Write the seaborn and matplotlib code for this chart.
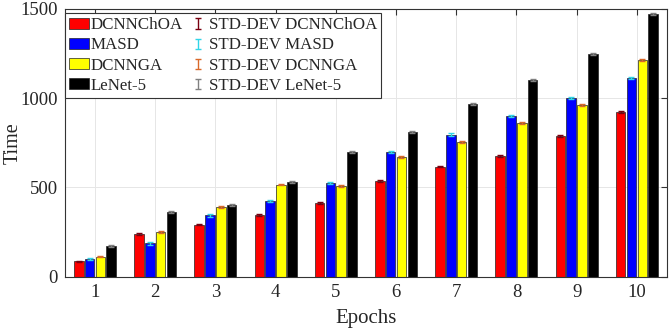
import numpy as np
import pandas as pd
import matplotlib
matplotlib.use("Agg")
import matplotlib.pyplot as plt
from matplotlib.legend_handler import HandlerErrorbar
import seaborn as sns

epochs = [1, 2, 3, 4, 5, 6, 7, 8, 9, 10]
methods = ['DCNNChOA', 'MASD', 'DCNNGA', 'LeNet-5']

# mean run time per epoch
dcnnchoa = [86, 238, 292, 344, 412, 537, 617, 676, 789, 922]
masd = [100, 188, 344, 426, 525, 700, 796, 902, 1000, 1111]
dcnnga = [113, 252, 392, 516, 510, 672, 754, 863, 962, 1212]
lenet5 = [171, 364, 400, 532, 700, 811, 968, 1104, 1247, 1472]

# standard deviation of the run time
std_dcnnchoa = [4, 5, 4, 5, 5, 4, 5, 5, 5, 6]
std_masd = [6, 8, 7, 6, 7, 6, 7, 6, 7, 6]
std_dcnnga = [5, 5, 6, 5, 6, 6, 7, 6, 6, 6]
std_lenet5 = [5, 6, 5, 5, 6, 6, 7, 6, 6, 6]

bar_colors = ['#ff0000', '#0000ff', '#ffff00', '#000000']
err_colors = ['#7a0010', '#30d5e8', '#d9692a', '#808080']

means = [dcnnchoa, masd, dcnnga, lenet5]
stds = [std_dcnnchoa, std_masd, std_dcnnga, std_lenet5]

df = pd.DataFrame({
    'Epochs': np.tile(epochs, 4),
    'Time': np.concatenate(means),
    'Method': np.repeat(methods, len(epochs)),
})

sns.set_style("white")
plt.rcParams['font.family'] = ['Liberation Serif', 'DejaVu Serif']

fig = plt.figure(figsize=(6.69, 3.29), dpi=100)
ax = fig.add_axes([0.097, 0.159, 0.9, 0.814])

sns.barplot(data=df, x='Epochs', y='Time', hue='Method', hue_order=methods,
            palette=bar_colors, saturation=1, width=0.72, gap=0.12,
            errorbar=None, edgecolor='#222222', linewidth=0.5, ax=ax,
            zorder=2)

bar_handles, _ = ax.get_legend_handles_labels()
ax.get_legend().remove()

err_handles = []
for cont, sd, ec, name in zip(ax.containers, stds, err_colors, methods):
    xs = [p.get_x() + p.get_width() / 2 for p in cont.patches]
    hs = [p.get_height() for p in cont.patches]
    h = ax.errorbar(xs, hs, yerr=sd, fmt='none', ecolor=ec, elinewidth=1.0,
                    capsize=2.5, capthick=1.0, zorder=3,
                    label='STD-DEV ' + name)
    err_handles.append(h)

ax.set_ylim(0, 1500)
ax.set_xlim(-0.5, 9.5)
ax.set_yticks([0, 500, 1000, 1500])
ax.set_xlabel('Epochs', fontsize=15, labelpad=6)
ax.set_ylabel('Time', fontsize=14.5)
ax.yaxis.set_label_coords(-0.07, 0.5)
ax.tick_params(axis='both', labelsize=13.5, direction='in', length=4,
               top=True, right=True, width=0.8, color='#333333', pad=5)
ax.grid(True, color='#e6e6e6', linewidth=0.7, zorder=0)
ax.set_axisbelow(True)
for s in ax.spines.values():
    s.set_color('#333333')
    s.set_linewidth(0.8)

leg = ax.legend(bar_handles + err_handles,
                methods + ['STD-DEV ' + m for m in methods],
                ncol=2, loc='upper left', fontsize=12.2, frameon=True,
                fancybox=False, edgecolor='#333333', framealpha=1,
                handlelength=1.2, handleheight=0.6, handletextpad=0.05,
                columnspacing=0.3, labelspacing=0.25, borderpad=0.25,
                borderaxespad=0.0, bbox_to_anchor=(0.0, 0.985),
                handler_map={type(err_handles[0]):
                             HandlerErrorbar(xerr_size=0.2, yerr_size=0.3)})
leg.get_frame().set_linewidth(0.8)

fig.savefig('out.png', dpi=100)
